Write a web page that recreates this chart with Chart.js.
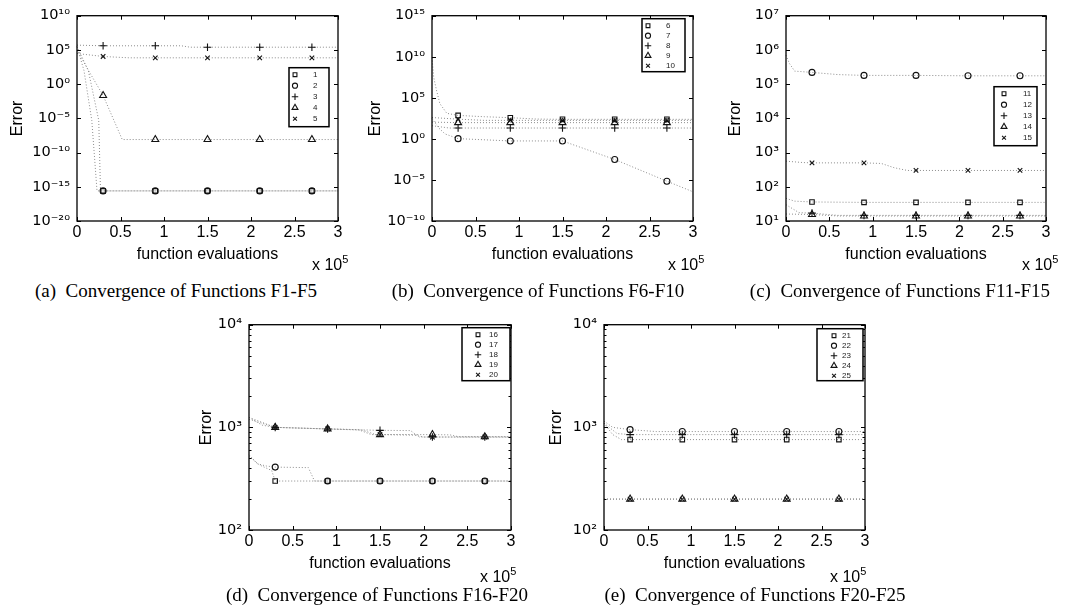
<!DOCTYPE html>
<html>
<head>
<meta charset="utf-8">
<script src="https://cdn.jsdelivr.net/npm/chart.js@4.4.0/dist/chart.umd.min.js"></script>
<style>
  body { margin: 0; background: #fff; }
  #page { position: relative; width: 1067px; height: 607px; overflow: hidden; background: #fff; }
  canvas { position: absolute; }
  .xexp { position: absolute; font: 16px "Liberation Sans", Arial, sans-serif; line-height: 16px; white-space: nowrap; color: #000; }
  .xexp sup { font-size: 11px; vertical-align: 7px; line-height: 0; }
  .cap { position: absolute; width: 400px; text-align: center; font: 19px "Liberation Serif", "Times New Roman", serif; line-height: 22px; white-space: nowrap; color: #000; }
</style>
</head>
<body>
<div id="page">
  <canvas id="chartA" width="350" height="275" style="left:0px;top:0px"></canvas>
  <canvas id="chartB" width="350" height="275" style="left:355px;top:0px"></canvas>
  <canvas id="chartC" width="349" height="275" style="left:709px;top:0px"></canvas>
  <canvas id="chartD" width="351" height="275" style="left:172px;top:309px"></canvas>
  <canvas id="chartE" width="350" height="275" style="left:527px;top:309px"></canvas>

  <div class="xexp" style="left:312px;top:257px">x 10<sup>5</sup></div>
  <div class="xexp" style="left:668px;top:257px">x 10<sup>5</sup></div>
  <div class="xexp" style="left:1022px;top:257px">x 10<sup>5</sup></div>
  <div class="xexp" style="left:480px;top:569px">x 10<sup>5</sup></div>
  <div class="xexp" style="left:830px;top:569px">x 10<sup>5</sup></div>

  <div class="cap" style="left:-24px;top:280px">(a)&nbsp;&nbsp;Convergence of Functions F1-F5</div>
  <div class="cap" style="left:338px;top:280px">(b)&nbsp;&nbsp;Convergence of Functions F6-F10</div>
  <div class="cap" style="left:700px;top:280px">(c)&nbsp;&nbsp;Convergence of Functions F11-F15</div>
  <div class="cap" style="left:177px;top:584px">(d)&nbsp;&nbsp;Convergence of Functions F16-F20</div>
  <div class="cap" style="left:555px;top:584px">(e)&nbsp;&nbsp;Convergence of Functions F20-F25</div>
</div>

<script>
// values, x is in units of 1e5 function evaluations
var xTicks = [0, 0.5, 1, 1.5, 2, 2.5, 3];
var xMarks = [0.3, 0.9, 1.5, 2.1, 2.7];

// (a) F1-F5
var labelsA = ['1', '2', '3', '4', '5'];
var yTicksA = [1e-20, 1e-15, 1e-10, 1e-5, 1, 1e5, 1e10];
var marksA = [
   [2.5e-16, 2.5e-16, 2.5e-16, 2.5e-16, 2.5e-16],
   [2.5e-16, 2.5e-16, 2.5e-16, 2.5e-16, 2.5e-16],
   [4e5, 4e5, 2.5e5, 2.5e5, 2.5e5],
   [0.022, 8e-9, 8e-9, 8e-9, 8e-9],
   [1.1e4, 7e3, 7e3, 7e3, 7e3]
];
var linesA = [
   [[0, 3e5], [0.08, 100], [0.17, 5e-6], [0.23, 2.5e-16], [3, 2.5e-16]],
   [[0, 3e5], [0.13, 100], [0.25, 5e-6], [0.27, 2.5e-16], [3, 2.5e-16]],
   [[0, 5e5], [1.2, 4e5], [1.3, 2.5e5], [3, 2.5e5]],
   [[0, 1e5], [0.11, 300], [0.52, 8e-9], [3, 8e-9]],
   [[0, 3e4], [0.6, 7e3], [3, 7e3]]
];

// (b) F6-F10
var labelsB = ['6', '7', '8', '9', '10'];
var yTicksB = [1e-10, 1e-5, 1, 1e5, 1e10, 1e15];
var marksB = [
   [720, 380, 240, 240, 240],
   [1.07, 0.56, 0.56, 3.1e-3, 7e-6],
   [21, 21, 21, 21, 21],
   [95, 95, 95, 95, 95],
   [250, 180, 180, 180, 180]
];
var linesB = [
   [[0, 8e9], [0.02, 3e7], [0.05, 1e6], [0.09, 2e4], [0.17, 1.3e3], [0.6, 500], [1.2, 260], [3, 240]],
   [[0, 300], [0.08, 20], [0.15, 4], [3, 3.6e-7]],
   [[0, 40], [0.2, 21], [3, 21]],
   [[0, 110], [3, 95]],
   [[0, 400], [0.6, 180], [3, 180]]
];

// (c) F11-F15
var labelsC = ['11', '12', '13', '14', '15'];
var yTicksC = [10, 100, 1e3, 1e4, 1e5, 1e6, 1e7];
var marksC = [
   [36, 35, 35, 35, 35],
   [2.2e5, 1.8e5, 1.8e5, 1.75e5, 1.75e5],
   [17, 14.6, 14.6, 14.6, 14.6],
   [15.5, 14, 14, 14, 14],
   [500, 500, 300, 300, 300]
];
var linesC = [
   [[0, 46], [0.1, 38], [3, 35]],
   [[0, 7e5], [0.04, 4e5], [0.1, 2.4e5], [0.6, 1.9e5], [3, 1.75e5]],
   [[0, 30], [0.15, 17.5], [0.6, 14.6], [3, 14.6]],
   [[0, 16], [0.6, 14], [3, 14]],
   [[0, 560], [0.2, 510], [1.1, 480], [1.25, 360], [1.4, 300], [3, 300]]
];

// (d) F16-F20
var labelsD = ['16', '17', '18', '19', '20'];
var yTicksD = [100, 1000, 10000];
var marksD = [
   [300, 300, 300, 300, 300],
   [410, 300, 300, 300, 300],
   [1000, 965, 935, 805, 805],
   [1000, 965, 850, 850, 810],
   [1000, 965, 850, 805, 805]
];
var linesD = [
   [[0, 520], [0.12, 430], [0.26, 380], [3, 300]],
   [[0, 540], [0.1, 440], [0.2, 420], [0.68, 405], [0.75, 300], [3, 300]],
   [[0, 1250], [0.15, 1050], [1.85, 930], [1.95, 805], [3, 805]],
   [[0, 1250], [1.25, 950], [1.4, 850], [2.3, 845], [2.4, 810], [3, 810]],
   [[0, 1200], [1.3, 940], [1.45, 850], [1.9, 840], [2.0, 805], [3, 805]]
];

// (e) F21-F25
var labelsE = ['21', '22', '23', '24', '25'];
var yTicksE = [100, 1000, 10000];
var marksE = [
   [760, 760, 760, 760, 760],
   [950, 910, 910, 910, 910],
   [850, 850, 850, 850, 850],
   [200, 200, 200, 200, 200],
   [200, 200, 200, 200, 200]
];
var linesE = [
   [[0, 1100], [0.1, 850], [0.2, 760], [3, 760]],
   [[0, 1150], [0.1, 1000], [0.6, 910], [3, 910]],
   [[0, 1100], [0.15, 870], [3, 850]],
   [[0, 200], [3, 200]],
   [[0, 200], [3, 200]]
];

var FONT = '"Liberation Sans", Arial, sans-serif';
// DejaVu has every superscript glyph, so the exponents come out even
var FONT_EXP = '"DejaVu Sans", "Liberation Sans", sans-serif';
var styles = ['rect', 'circle', 'cross', 'triangle', 'crossRot'];
var sizes = [3.2, 3, 3.8, 4, 3.2];
var supChars = { '0': '⁰', '1': '¹', '2': '²', '3': '³', '4': '⁴', '5': '⁵', '6': '⁶', '7': '⁷', '8': '⁸', '9': '⁹', '-': '⁻' };

function pow10(v) {
   var e = String(Math.round(Math.log10(v)));
   return '10' + e.split('').map(function(c) { return supChars[c]; }).join('');
}

// merge line vertices and marker points of one series, markers flagged with m
function seriesData(line, mark) {
   var pts = line.map(function(p) { return { x: p[0], y: p[1], m: false }; });
   for (var i = 0; i < xMarks.length; i++) {
      pts.push({ x: xMarks[i], y: mark[i], m: true });
   }
   return pts.sort(function(a, b) { return a.x - b.x; });
}

// box, inward ticks and the legend inside the axes (matlab look)
function boxPlugin(opt, yTicks) {
   return {
      id: 'matlabBox',
      afterDraw: function(chart) {
         var ctx = chart.ctx, a = chart.chartArea, sx = chart.scales.x, sy = chart.scales.y;
         ctx.save();
         ctx.strokeStyle = '#000';
         ctx.lineWidth = 1;
         ctx.beginPath();
         xTicks.forEach(function(v) {
            var px = Math.round(sx.getPixelForValue(v)) + 0.5;
            ctx.moveTo(px, a.bottom); ctx.lineTo(px, a.bottom - 4);
            ctx.moveTo(px, a.top); ctx.lineTo(px, a.top + 4);
         });
         yTicks.forEach(function(v) {
            var py = Math.round(sy.getPixelForValue(v)) + 0.5;
            ctx.moveTo(a.left, py); ctx.lineTo(a.left + 4, py);
            ctx.moveTo(a.right, py); ctx.lineTo(a.right - 4, py);
         });
         if (opt.minor) {
            for (var k = 0; k < yTicks.length - 1; k++) {
               for (var m = 2; m < 10; m++) {
                  var py = Math.round(sy.getPixelForValue(yTicks[k] * m)) + 0.5;
                  ctx.moveTo(a.left, py); ctx.lineTo(a.left + 2.5, py);
                  ctx.moveTo(a.right, py); ctx.lineTo(a.right - 2.5, py);
               }
            }
         }
         ctx.stroke();
         ctx.lineWidth = 1.3;
         ctx.strokeRect(a.left, a.top, a.right - a.left, a.bottom - a.top);

         var lg = opt.legend;
         var bx = a.right - lg.right - lg.w, by = a.top + lg.top;
         ctx.fillStyle = '#fff';
         ctx.fillRect(bx, by, lg.w, lg.h);
         ctx.lineWidth = 1.5;
         ctx.strokeStyle = '#000';
         ctx.strokeRect(bx, by, lg.w, lg.h);
         chart.data.datasets.forEach(function(ds, i) {
            var cy = by + 7 + i * lg.row;
            ctx.strokeStyle = '#111';
            ctx.fillStyle = 'rgba(0,0,0,0)';
            ctx.lineWidth = 1.1;
            Chart.helpers.drawPoint(ctx, { pointStyle: ds.pointStyle, radius: sizes[i] * 0.85, rotation: 0, borderWidth: 1.1 }, bx + lg.mx, cy);
            ctx.fillStyle = '#222';
            ctx.font = '8px ' + FONT;
            ctx.textBaseline = 'middle';
            ctx.textAlign = 'left';
            ctx.fillText(ds.label, bx + lg.tx, cy);
         });
         ctx.restore();
      }
   };
}

function makeChart(id, labels, marks, lines, yTicks, opt) {
   var datasets = labels.map(function(lab, i) {
      return {
         label: lab,
         data: seriesData(lines[i], marks[i]),
         pointStyle: styles[i],
         borderColor: '#8c8c8c',
         borderWidth: 1,
         borderDash: [1, 2],
         pointRadius: function(c) { return c.raw && c.raw.m ? sizes[i] : 0; },
         pointHoverRadius: 0,
         pointBorderColor: '#111',
         pointBackgroundColor: 'rgba(0,0,0,0)',
         pointBorderWidth: 1.1,
         tension: 0,
         fill: false,
         clip: false
      };
   });

   var ctx = document.getElementById(id).getContext('2d');
   return new Chart(ctx, {
      type: 'line',
      data: { datasets: datasets },
      options: {
         responsive: false,
         animation: false,
         events: [],
         layout: { padding: { left: 0, top: 15, right: opt.padRight, bottom: 0 } },
         plugins: { legend: { display: false }, tooltip: { enabled: false } },
         scales: {
            x: {
               type: 'linear', min: 0, max: 3,
               afterBuildTicks: function(s) { s.ticks = xTicks.map(function(v) { return { value: v }; }); },
               afterFit: function(s) { s.height = 54; },
               grid: { display: false, drawTicks: false },
               border: { display: false },
               ticks: { padding: 2, color: '#000', autoSkip: false, maxRotation: 0, font: { family: FONT, size: 16 },
                        callback: function(v) { return String(v); } },
               title: { display: true, text: 'function evaluations', color: '#000', font: { family: FONT, size: 16 },
                        padding: { top: 0, bottom: 11 } }
            },
            y: {
               type: 'logarithmic', min: yTicks[0], max: yTicks[yTicks.length - 1],
               afterBuildTicks: function(s) { s.ticks = yTicks.map(function(v) { return { value: v }; }); },
               afterFit: function(s) { s.width = 77; },
               grid: { display: false, drawTicks: false },
               border: { display: false },
               ticks: { padding: 7, color: '#000', autoSkip: false, font: { family: FONT_EXP, size: 14.5 },
                        callback: function(v) { return pow10(v); } },
               title: { display: true, text: 'Error', color: '#000', font: { family: FONT, size: 16 },
                        padding: { top: opt.yTitlePad, bottom: 0 } }
            }
         }
      },
      plugins: [boxPlugin(opt, yTicks)]
   });
}

makeChart('chartA', labelsA, marksA, linesA, yTicksA,
   { padRight: 12, yTitlePad: 7.5, legend: { right: 9, top: 52, w: 40, h: 59, row: 11, mx: 6, tx: 24 } });
makeChart('chartB', labelsB, marksB, linesB, yTicksB,
   { padRight: 12, yTitlePad: 10.5, legend: { right: 8, top: 3, w: 43, h: 53, row: 10, mx: 6, tx: 24 } });
makeChart('chartC', labelsC, marksC, linesC, yTicksC,
   { padRight: 12, yTitlePad: 16.5, legend: { right: 9, top: 71, w: 43, h: 59, row: 11, mx: 10, tx: 29 } });
makeChart('chartD', labelsD, marksD, linesD, yTicksD,
   { padRight: 12, yTitlePad: 24.5, minor: true, legend: { right: 1, top: 3, w: 48, h: 53, row: 10, mx: 16, tx: 27 } });
makeChart('chartE', labelsE, marksE, linesE, yTicksE,
   { padRight: 12, yTitlePad: 19.5, minor: true, legend: { right: 2, top: 4, w: 46, h: 52, row: 10, mx: 17, tx: 25 } });
</script>
</body>
</html>
